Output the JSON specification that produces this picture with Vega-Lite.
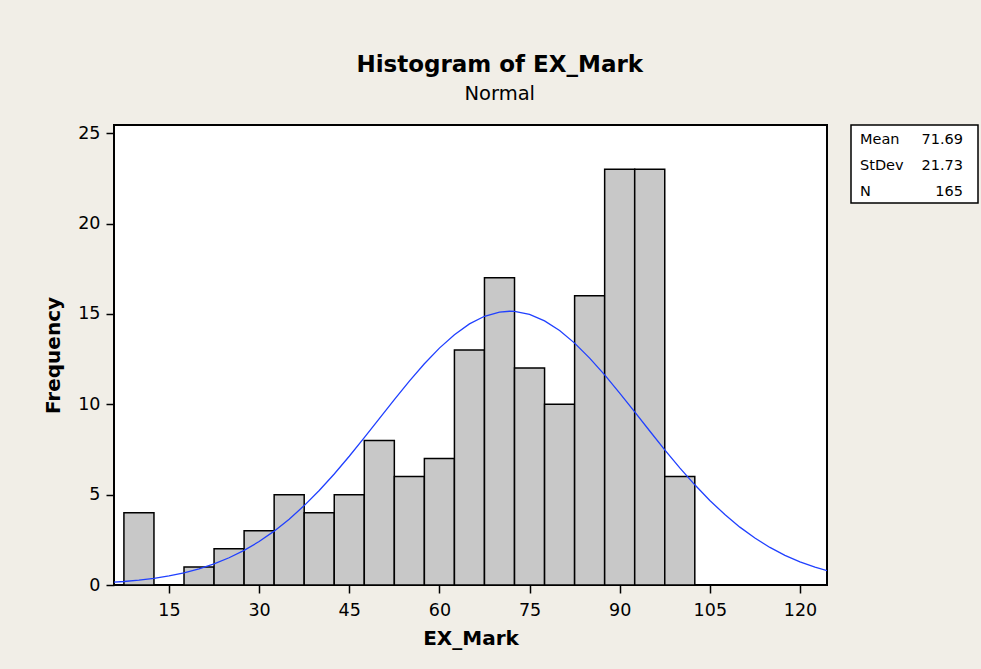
{
  "$schema": "https://vega.github.io/schema/vega-lite/v6.json",
  "background": "#F1EEE7",
  "autosize": {"type": "pad"},
  "padding": {"left": 42, "top": 53, "right": 4, "bottom": 20},
  "title": {
    "text": "Histogram of EX_Mark",
    "subtitle": "Normal",
    "anchor": "middle",
    "dx": -11,
    "font": "DejaVu Sans",
    "fontSize": 23,
    "fontWeight": "bold",
    "color": "#000000",
    "subtitleFont": "DejaVu Sans",
    "subtitleFontSize": 19.5,
    "subtitleColor": "#000000",
    "subtitlePadding": 8,
    "offset": 20
  },
  "datasets": {
    "bins": [
      {"lo": 7.5, "hi": 12.5, "count": 4},
      {"lo": 12.5, "hi": 17.5, "count": 0},
      {"lo": 17.5, "hi": 22.5, "count": 1},
      {"lo": 22.5, "hi": 27.5, "count": 2},
      {"lo": 27.5, "hi": 32.5, "count": 3},
      {"lo": 32.5, "hi": 37.5, "count": 5},
      {"lo": 37.5, "hi": 42.5, "count": 4},
      {"lo": 42.5, "hi": 47.5, "count": 5},
      {"lo": 47.5, "hi": 52.5, "count": 8},
      {"lo": 52.5, "hi": 57.5, "count": 6},
      {"lo": 57.5, "hi": 62.5, "count": 7},
      {"lo": 62.5, "hi": 67.5, "count": 13},
      {"lo": 67.5, "hi": 72.5, "count": 17},
      {"lo": 72.5, "hi": 77.5, "count": 12},
      {"lo": 77.5, "hi": 82.5, "count": 10},
      {"lo": 82.5, "hi": 87.5, "count": 16},
      {"lo": 87.5, "hi": 92.5, "count": 23},
      {"lo": 92.5, "hi": 97.5, "count": 23},
      {"lo": 97.5, "hi": 102.5, "count": 6}
    ],
    "curve": [
      {"x": 5, "y": 0.136}, {"x": 7.5, "y": 0.193}, {"x": 10, "y": 0.269}, {"x": 12.5, "y": 0.371},
      {"x": 15, "y": 0.504}, {"x": 17.5, "y": 0.676}, {"x": 20, "y": 0.895}, {"x": 22.5, "y": 1.169},
      {"x": 25, "y": 1.506}, {"x": 27.5, "y": 1.916}, {"x": 30, "y": 2.404}, {"x": 32.5, "y": 2.979},
      {"x": 35, "y": 3.641}, {"x": 37.5, "y": 4.393}, {"x": 40, "y": 5.230}, {"x": 42.5, "y": 6.144},
      {"x": 45, "y": 7.124}, {"x": 47.5, "y": 8.151}, {"x": 50, "y": 9.203}, {"x": 52.5, "y": 10.256},
      {"x": 55, "y": 11.277}, {"x": 57.5, "y": 12.238}, {"x": 60, "y": 13.106}, {"x": 62.5, "y": 13.851},
      {"x": 65, "y": 14.445}, {"x": 67.5, "y": 14.867}, {"x": 70, "y": 15.100}, {"x": 71.69, "y": 15.146},
      {"x": 72.5, "y": 15.136}, {"x": 75, "y": 14.971}, {"x": 77.5, "y": 14.614}, {"x": 80, "y": 14.078},
      {"x": 82.5, "y": 13.383}, {"x": 85, "y": 12.555}, {"x": 87.5, "y": 11.624}, {"x": 90, "y": 10.620},
      {"x": 92.5, "y": 9.575}, {"x": 95, "y": 8.520}, {"x": 97.5, "y": 7.481}, {"x": 100, "y": 6.482},
      {"x": 102.5, "y": 5.543}, {"x": 105, "y": 4.678}, {"x": 107.5, "y": 3.896}, {"x": 110, "y": 3.202},
      {"x": 112.5, "y": 2.597}, {"x": 115, "y": 2.078}, {"x": 117.5, "y": 1.641}, {"x": 120, "y": 1.279},
      {"x": 122.5, "y": 0.984}, {"x": 125, "y": 0.747}
    ],
    "stats": [
      {"stat": "Mean", "value": "71.69"},
      {"stat": "StDev", "value": "21.73"},
      {"stat": "N", "value": "165"}
    ]
  },
  "spacing": 22,
  "hconcat": [
    {
      "width": 713,
      "height": 460,
      "view": {"fill": "#FFFFFF", "stroke": "#000000", "strokeWidth": 2},
      "layer": [
        {
          "data": {"name": "bins"},
          "mark": {"type": "rect", "fill": "#C8C8C8", "stroke": "#000000", "strokeWidth": 1.5},
          "encoding": {
            "x": {
              "field": "lo", "type": "quantitative", "title": "EX_Mark",
              "scale": {"domain": [5.85, 124.5], "nice": false, "zero": false},
              "axis": {"values": [15, 30, 45, 60, 75, 90, 105, 120], "labelPadding": 8, "titlePadding": 10}
            },
            "x2": {"field": "hi"},
            "y": {
              "field": "count", "type": "quantitative", "title": "Frequency",
              "scale": {"domain": [0, 25.45], "nice": false, "zero": true},
              "axis": {"values": [0, 5, 10, 15, 20, 25], "labelPadding": 6, "titlePadding": 14}
            },
            "y2": {"datum": 0}
          }
        },
        {
          "data": {"name": "curve"},
          "mark": {"type": "line", "color": "#2040FF", "strokeWidth": 1.3, "clip": true},
          "encoding": {
            "x": {"field": "x", "type": "quantitative"},
            "y": {"field": "y", "type": "quantitative"}
          }
        }
      ]
    },
    {
      "width": 127,
      "height": 78,
      "data": {"name": "stats"},
      "view": {"fill": "#FFFFFF", "stroke": "#000000", "strokeWidth": 1.5},
      "encoding": {
        "y": {"field": "stat", "type": "nominal", "sort": null, "axis": null,
              "scale": {"paddingInner": 0, "paddingOuter": 0.175}}
      },
      "layer": [
        {
          "mark": {"type": "text", "align": "left", "baseline": "middle", "dx": 9, "dy": 1.5, "font": "DejaVu Sans", "fontSize": 14.5, "color": "#000000"},
          "encoding": {
            "x": {"datum": 0, "type": "quantitative", "scale": {"domain": [0, 1], "nice": false}, "axis": null},
            "text": {"field": "stat"}
          }
        },
        {
          "mark": {"type": "text", "align": "right", "baseline": "middle", "dx": -15, "dy": 1.5, "font": "DejaVu Sans", "fontSize": 14.5, "color": "#000000"},
          "encoding": {
            "x": {"datum": 1, "type": "quantitative"},
            "text": {"field": "value"}
          }
        }
      ]
    }
  ],
  "config": {
    "axis": {
      "domain": false,
      "grid": false,
      "labelFont": "DejaVu Sans",
      "labelFontSize": 17.5,
      "labelColor": "#000000",
      "tickColor": "#000000",
      "tickSize": 8,
      "tickWidth": 1.5,
      "titleFont": "DejaVu Sans",
      "titleFontSize": 20,
      "titleFontWeight": "bold",
      "titleColor": "#000000"
    }
  }
}
